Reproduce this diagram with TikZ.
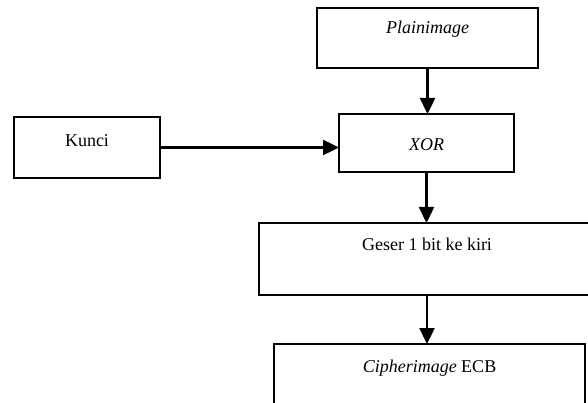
\documentclass[tikz,border=0pt]{standalone}
\usepackage{fontspec}
\setmainfont{Liberation Serif}
\usetikzlibrary{arrows.meta,positioning}
\definecolor{ecbInk}{HTML}{000000}
\tikzset{
  stepbox/.style={
    draw=ecbInk,
    line width=2pt,
    inner xsep=0pt,
    inner ysep=0pt,
    outer sep=0pt,
    align=center,
    font=\fontsize{18}{20}\selectfont
  },
  flowarrow/.style={
    -{Triangle[length=16pt,width=15pt]},
    line width=2.4pt,
    draw=ecbInk
  }
}
\begin{document}
\begin{tikzpicture}[x=1pt,y=-1pt]
\useasboundingbox (0,0) rectangle (588,403);

\node[stepbox, minimum width=221pt, text height=26pt, text depth=34pt] (plain) at (427.5,38) {\textit{Plainimage}};
\node[stepbox, minimum width=175pt, text height=37pt, text depth=21pt] (xor) at (426.5,143) {\textit{XOR}};
\node[stepbox, minimum width=146pt, text height=30pt, text depth=31pt] (kunci) at (87,147.5) {Kunci};
\node[stepbox, minimum width=336pt, text height=27pt, text depth=45pt] (geser) at (427,259) {Geser 1 bit ke kiri};
\node[stepbox, minimum width=311pt, text height=28pt, text depth=34pt] (cipher) at (429.5,375) {\textit{Cipherimage} ECB};

\draw[flowarrow] (plain.south) -- (plain.south |- xor.north);
\draw[flowarrow] (kunci.east) -- (kunci.east -| xor.west);
\draw[flowarrow] (xor.south) -- (xor.south |- geser.north);
\draw[flowarrow] (geser.south) -- (geser.south |- cipher.north);

\end{tikzpicture}
\end{document}
